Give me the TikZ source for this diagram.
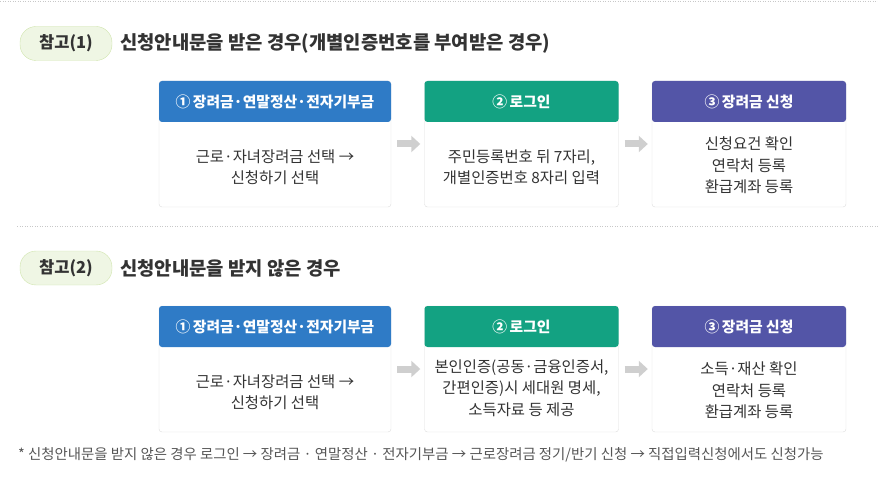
\documentclass[tikz,border=0pt]{standalone}
\usepackage{fontspec}
\setmainfont{Noto Sans CJK KR}
\usepackage{tikz}
\usetikzlibrary{arrows.meta}
\usepackage{xcolor}
\definecolor{headblue}{HTML}{2F7BC6}
\definecolor{headgreen}{HTML}{13A282}
\definecolor{headpurple}{HTML}{5355A7}
\definecolor{pillfill}{HTML}{EFF6E4}
\definecolor{pillline}{HTML}{CFE4AC}
\definecolor{textdark}{HTML}{333333}
\definecolor{textgray}{HTML}{555555}
\definecolor{cardline}{HTML}{DDDDDD}
\definecolor{arrowgray}{HTML}{CFCFCF}
\definecolor{dotgray}{HTML}{C8C8C8}

\begin{document}
\begin{tikzpicture}[x=1pt,y=-1pt,
    card/.style={rectangle, draw=cardline, fill=white, rounded corners=3pt, minimum height=126pt, inner sep=0pt},
    head/.style={rectangle, rounded corners=3pt, text=white, font=\fontsize{14.8}{16}\selectfont\bfseries, minimum height=41pt, inner sep=0pt},
    body/.style={align=center, text=textdark, font=\fontsize{15.4}{21.5}\selectfont, inner sep=0pt},
    pill/.style={rectangle, rounded corners=16pt, draw=pillline, fill=pillfill, text=textdark, font=\fontsize{16.5}{18}\selectfont\bfseries, minimum width=92pt, minimum height=34pt},
    title/.style={anchor=west, text=textdark, font=\fontsize{18.8}{20}\selectfont\bfseries, inner sep=0pt},
    flow/.style={draw=arrowgray, line width=7pt, -{Triangle[length=9pt,width=16pt]}, shorten <=6pt, shorten >=4pt},
    sep/.style={dotgray, line width=1pt, dash pattern=on 1pt off 1.5pt}]

      % Variables
      \def \xa   {275}
      \def \xb   {521.5}
      \def \xc   {749}
      \def \wa   {232}
      \def \wb   {194}
      \def \rowa {144}
      \def \rowb {369}

      \useasboundingbox (0,0) rectangle (878,481);

      % Dotted lines
      \draw[sep] (0,2) -- (878,2);
      \draw[sep] (17,227) -- (878,227);

      % Reference 1
      \node[pill] (p1) at (66,43.5) {참고(1)};
      \node[title] (t1) at (120,43.5) {신청안내문을 받은 경우(개별인증번호를 부여받은 경우)};

      \node[card, minimum width=\wa] (c1a) at (\xa,\rowa) {};
      \node[card, minimum width=\wb] (c1b) at (\xb,\rowa) {};
      \node[card, minimum width=\wb] (c1c) at (\xc,\rowa) {};
      \node[head, fill=headblue, minimum width=\wa] (h1a) at (\xa,\rowa-42.5) {①\,장려금·연말정산·전자기부금};
      \node[head, fill=headgreen, minimum width=\wb] (h1b) at (\xb,\rowa-42.5) {②\,로그인};
      \node[head, fill=headpurple, minimum width=\wb] (h1c) at (\xc,\rowa-42.5) {③\,장려금 신청};
      \node[body] (b1a) at (\xa,\rowa+23) {근로·자녀장려금 선택 →\\신청하기 선택};
      \node[body] (b1b) at (\xb,\rowa+23) {주민등록번호 뒤 7자리,\\개별인증번호 8자리 입력};
      \node[body] (b1c) at (\xc,\rowa+21.5) {신청요건 확인\\연락처 등록\\환급계좌 등록};

      \draw[flow] (c1a) -- (c1b);
      \draw[flow] (c1b) -- (c1c);

      % Reference 2
      \node[pill] (p2) at (66,268) {참고(2)};
      \node[title] (t2) at (120,268) {신청안내문을 받지 않은 경우};

      \node[card, minimum width=\wa] (c2a) at (\xa,\rowb) {};
      \node[card, minimum width=\wb] (c2b) at (\xb,\rowb) {};
      \node[card, minimum width=\wb] (c2c) at (\xc,\rowb) {};
      \node[head, fill=headblue, minimum width=\wa] (h2a) at (\xa,\rowb-42.5) {①\,장려금·연말정산·전자기부금};
      \node[head, fill=headgreen, minimum width=\wb] (h2b) at (\xb,\rowb-42.5) {②\,로그인};
      \node[head, fill=headpurple, minimum width=\wb] (h2c) at (\xc,\rowb-42.5) {③\,장려금 신청};
      \node[body] (b2a) at (\xa,\rowb+23) {근로·자녀장려금 선택 →\\신청하기 선택};
      \node[body] (b2b) at (\xb,\rowb+19) {본인인증(공동·금융인증서,\\간편인증)시 세대원 명세,\\소득자료 등 제공};
      \node[body] (b2c) at (\xc,\rowb+21.5) {소득·재산 확인\\연락처 등록\\환급계좌 등록};

      \draw[flow] (c2a) -- (c2b);
      \draw[flow] (c2b) -- (c2c);

      % Note
      \node[anchor=west, text=textgray, font=\fontsize{14.4}{16}\selectfont, inner sep=0pt] (n1) at (18,455)
        {* 신청안내문을 받지 않은 경우 로그인 → 장려금 · 연말정산 · 전자기부금 → 근로장려금 정기/반기 신청 → 직접입력신청에서도 신청가능};

\end{tikzpicture}
\end{document}
